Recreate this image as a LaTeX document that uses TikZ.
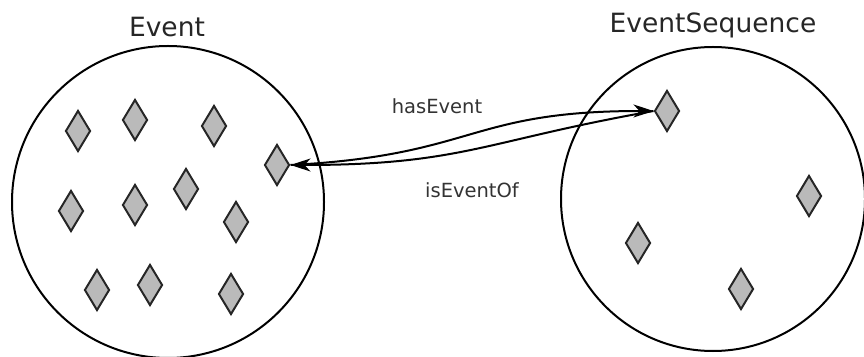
\documentclass[tikz,border=0pt]{standalone}
\usepackage{fontspec}
\setmainfont{DejaVu Sans}
\usetikzlibrary{shapes.geometric,arrows.meta}
\begin{document}
\begin{tikzpicture}[x=1pt,y=1pt,
  gem/.style={diamond,draw=black!85,line width=2pt,fill=black!27,minimum width=25pt,minimum height=41pt,inner sep=0pt},
  setc/.style={draw=black,line width=2pt},
  title/.style={font=\fontsize{26.5}{30}\selectfont,text=black!85},
  rel/.style={font=\fontsize{19.5}{22}\selectfont,text=black!80},
  link/.style={draw=black,line width=2pt,-{Stealth[length=20pt,width=13pt,inset=6pt]}}]
\useasboundingbox (0,0) rectangle (864,356);
\node[circle,setc,minimum size=312pt,inner sep=0pt] (ev) at (168,154) {};
\node[circle,setc,minimum size=304pt,inner sep=0pt] (es) at (713,157) {};
\node[title] (evt) at (167,329) {Event};
\node[title] (est) at (713,331) {EventSequence};
% Event members
\node[gem] (d1) at (78,225) {};
\node[gem] (d2) at (135,236) {};
\node[gem] (d3) at (214,230) {};
\node[gem] (d4) at (277,191) {};
\node[gem] (d5) at (71,145) {};
\node[gem] (d6) at (135,151) {};
\node[gem] (d7) at (186,167) {};
\node[gem] (d8) at (236,134) {};
\node[gem] (d9) at (97,66) {};
\node[gem] (d10) at (150,71) {};
\node[gem] (d11) at (231,62) {};
% EventSequence members
\node[gem] (r1) at (667,245) {};
\node[gem] (r2) at (809,160) {};
\node[gem] (r3) at (638,113) {};
\node[gem] (r4) at (741,67) {};
% relations
\draw[link] (d4.east) to[out=3,in=180,looseness=1.3] (r1.west);
\draw[link] (r1.west) to[out=190,in=0,looseness=1.2] (d4.east);
\node[rel] (he) at (437,250) {hasEvent};
\node[rel] (ieo) at (472,166) {isEventOf};
\end{tikzpicture}
\end{document}
